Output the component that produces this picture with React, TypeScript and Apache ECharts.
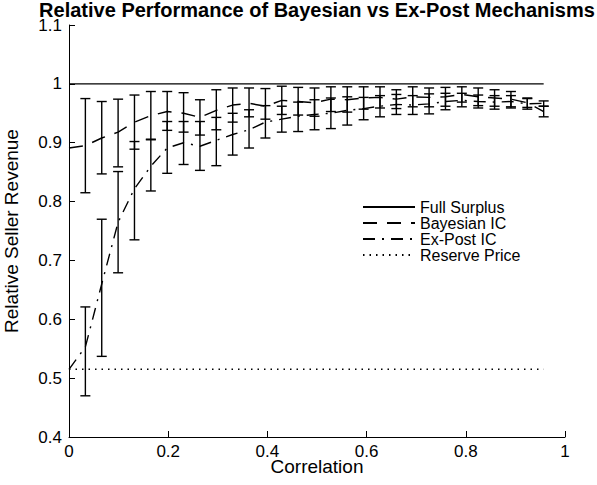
import React, { useEffect, useRef } from "react";
import * as echarts from "echarts";

const xValues = [0, 0.033, 0.066, 0.099, 0.132, 0.165, 0.198, 0.231, 0.264, 0.297, 0.33, 0.363, 0.396, 0.429, 0.462, 0.495, 0.528, 0.561, 0.594, 0.627, 0.66, 0.693, 0.726, 0.759, 0.792, 0.825, 0.858, 0.891, 0.924, 0.957];

const bayesMean = [0.891, 0.895, 0.908, 0.918, 0.935, 0.946, 0.953, 0.95, 0.943, 0.955, 0.964, 0.967, 0.962, 0.972, 0.97, 0.968, 0.974, 0.973, 0.976, 0.977, 0.974, 0.978, 0.977, 0.978, 0.982, 0.978, 0.976, 0.974, 0.968, 0.953];
const bayesUpper = [null, 0.975, 0.97, 0.974, 0.981, 0.987, 0.987, 0.985, 0.973, 0.99, 0.993, 0.993, 0.992, 0.996, 0.994, 0.993, 0.995, 0.995, 0.995, 0.995, 0.99, 0.995, 0.993, 0.994, 0.995, 0.993, 0.99, 0.987, 0.976, 0.962];
const bayesLower = [null, 0.815, 0.847, 0.859, 0.889, 0.905, 0.921, 0.918, 0.913, 0.922, 0.935, 0.944, 0.94, 0.948, 0.947, 0.945, 0.953, 0.952, 0.957, 0.959, 0.958, 0.961, 0.961, 0.962, 0.969, 0.963, 0.962, 0.961, 0.96, 0.944];

const expostMean = [0.515, 0.553, 0.66, 0.765, 0.822, 0.86, 0.891, 0.9, 0.894, 0.904, 0.914, 0.922, 0.935, 0.94, 0.945, 0.948, 0.95, 0.955, 0.958, 0.962, 0.965, 0.964, 0.966, 0.97, 0.972, 0.97, 0.969, 0.97, 0.966, 0.967];
const expostUpper = [null, 0.621, 0.77, 0.851, 0.902, 0.906, 0.936, 0.936, 0.936, 0.943, 0.95, 0.956, 0.963, 0.962, 0.969, 0.973, 0.976, 0.978, 0.977, 0.98, 0.982, 0.98, 0.983, 0.984, 0.984, 0.981, 0.98, 0.98, 0.975, 0.971];
const expostLower = [null, 0.47, 0.537, 0.679, 0.735, 0.818, 0.848, 0.863, 0.853, 0.861, 0.879, 0.891, 0.908, 0.918, 0.919, 0.922, 0.924, 0.93, 0.939, 0.944, 0.948, 0.948, 0.949, 0.956, 0.961, 0.959, 0.957, 0.959, 0.957, 0.962];

const fullSurplusX = [0, 0.957];
const fullSurplusY = [1, 1];
const reserveX = [0, 0.957];
const reserveY = [0.515, 0.515];

const seriesNames = ["Full Surplus", "Bayesian IC", "Ex-Post IC", "Reserve Price"];
const titleText = "Relative Performance of Bayesian vs Ex-Post Mechanisms";
const xAxisName = "Correlation";
const yAxisName = "Relative Seller Revenue";

const FONT = "'Liberation Sans', Arial, Helvetica, sans-serif";

function pairs(xs: number[], ys: (number | null)[]) {
  return xs.map((x, i) => [x, ys[i]]);
}

function bars(xs: number[], lo: (number | null)[], hi: (number | null)[]) {
  const out: number[][] = [];
  xs.forEach((x, i) => {
    if (lo[i] != null && hi[i] != null) out.push([x, lo[i] as number, hi[i] as number]);
  });
  return out;
}

function errorBarSeries(data: number[][]) {
  return {
    type: "custom",
    data,
    encode: { x: 0, y: [1, 2] },
    silent: true,
    z: 3,
    renderItem: (params: any, api: any) => {
      const x = api.value(0);
      const pLo = api.coord([x, api.value(1)]);
      const pHi = api.coord([x, api.value(2)]);
      const w = 5;
      const style = { stroke: "#000", lineWidth: 1.4, fill: null };
      return {
        type: "group",
        children: [
          { type: "line", shape: { x1: pHi[0], y1: pHi[1], x2: pLo[0], y2: pLo[1] }, style },
          { type: "line", shape: { x1: pHi[0] - w, y1: pHi[1], x2: pHi[0] + w, y2: pHi[1] }, style },
          { type: "line", shape: { x1: pLo[0] - w, y1: pLo[1], x2: pLo[0] + w, y2: pLo[1] }, style },
        ],
      };
    },
  };
}

export default function App() {
  const ref = useRef<HTMLDivElement>(null);
  useEffect(() => {
    const chart = echarts.init(ref.current as HTMLDivElement, null, { renderer: "svg" });
    const lineBase = { type: "line", symbol: "none", showSymbol: false, z: 2 };
    chart.setOption({
      animation: false,
      backgroundColor: "#fff",
      title: {
        text: titleText,
        left: 317,
        textAlign: "center",
        top: 1,
        padding: 0,
        textStyle: { fontFamily: FONT, fontSize: 20, fontWeight: "bold", color: "#000", lineHeight: 18 },
      },
      grid: { left: 69, right: 32, top: 25, bottom: 48, containLabel: false, outerBoundsMode: "none" },
      legend: {
        data: seriesNames,
        orient: "vertical",
        left: 362,
        top: 199,
        itemWidth: 52,
        itemHeight: 10,
        itemGap: 0,
        padding: 0,
        itemStyle: { opacity: 0 },
        textStyle: { fontFamily: FONT, fontSize: 16, color: "#000", lineHeight: 14 },
        selectedMode: false,
      },
      xAxis: {
        type: "value",
        min: 0,
        max: 1,
        interval: 0.2,
        name: xAxisName,
        nameLocation: "middle",
        nameGap: 20,
        nameMoveOverlap: false,
        nameTextStyle: { fontFamily: FONT, fontSize: 19, color: "#000" },
        axisLine: { show: true, lineStyle: { color: "#000", width: 1 } },
        axisTick: { show: true, inside: true, length: 6, lineStyle: { color: "#000" } },
        axisLabel: {
          fontFamily: FONT,
          fontSize: 17,
          color: "#000",
          margin: 7,
          lineHeight: 14,
          formatter: (v: number) => String(Number(v.toFixed(1))),
        },
        splitLine: { show: false },
      },
      yAxis: {
        type: "value",
        min: 0.4,
        max: 1.1,
        interval: 0.1,
        name: yAxisName,
        nameLocation: "middle",
        nameGap: 48,
        nameRotate: 90,
        nameTextStyle: { fontFamily: FONT, fontSize: 19, color: "#000" },
        axisLine: { show: true, lineStyle: { color: "#000", width: 1 } },
        axisTick: { show: true, inside: true, length: 6, lineStyle: { color: "#000" } },
        axisLabel: {
          fontFamily: FONT,
          fontSize: 17,
          color: "#000",
          margin: 7,
          lineHeight: 10,
          formatter: (v: number) => String(Number(v.toFixed(1))),
        },
        splitLine: { show: false },
      },
      series: [
        {
          ...lineBase,
          name: seriesNames[0],
          data: pairs(fullSurplusX, fullSurplusY),
          lineStyle: { color: "#000", width: 1.4, type: "solid" },
          itemStyle: { color: "#000" },
        },
        {
          ...lineBase,
          name: seriesNames[1],
          data: pairs(xValues, bayesMean),
          lineStyle: { color: "#000", width: 1.4, type: [14, 10] },
          itemStyle: { color: "#000" },
        },
        {
          ...lineBase,
          name: seriesNames[2],
          data: pairs(xValues, expostMean),
          lineStyle: { color: "#000", width: 1.4, type: [12, 7, 2, 7] },
          itemStyle: { color: "#000" },
        },
        {
          ...lineBase,
          name: seriesNames[3],
          data: pairs(reserveX, reserveY),
          lineStyle: { color: "#000", width: 1.4, type: [1.5, 5] },
          itemStyle: { color: "#000" },
        },
        errorBarSeries(bars(xValues, bayesLower, bayesUpper)),
        errorBarSeries(bars(xValues, expostLower, expostUpper)),
      ],
    });
    return () => chart.dispose();
  }, []);
  return (
    <div
      ref={ref}
      style={{ position: "fixed", left: 0, top: 0, width: 597, height: 485, background: "#fff" }}
    />
  );
}
